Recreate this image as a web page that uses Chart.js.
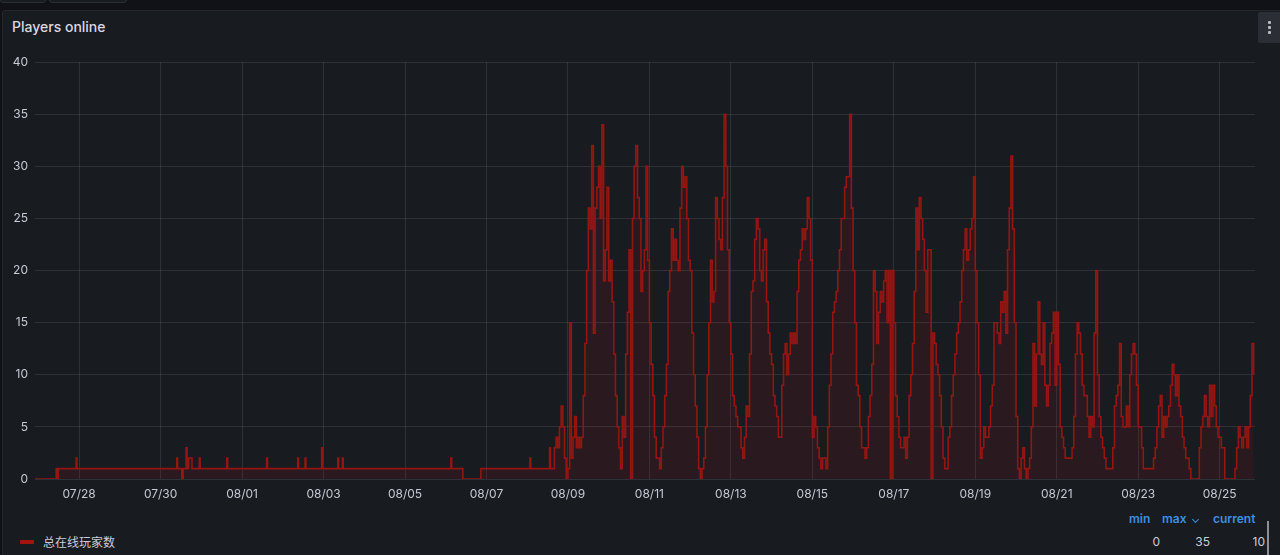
<!DOCTYPE html>
<html>
<head>
<meta charset="utf-8">
<script src="https://cdn.jsdelivr.net/npm/chart.js@4"></script>
<style>
  html, body { margin: 0; padding: 0; }
  body { width: 1280px; height: 555px; background: #111217; overflow: hidden; position: relative;
         font-family: Inter, "Noto Sans CJK SC", sans-serif; color: #ccccdc; }
  .topbtn { position: absolute; top: -6px; height: 7px; border: 1px solid #2c3036; border-radius: 3px; background: #181b1f; }
  .panel { position: absolute; left: 2px; top: 10px; width: 1290px; height: 560px; background: #181b1f;
           border: 1px solid #24272c; border-radius: 3px; }
  .title { position: absolute; left: 12px; top: 18px; font-size: 14px; font-weight: 500; color: #d8d9e3; }
  .menu { position: absolute; left: 1258px; top: 12px; width: 24px; height: 31px; background: #2b2e34; border-radius: 2px; }
  .menu i { position: absolute; left: 10px; width: 3px; height: 3px; background: #b8bac4; border-radius: 1px; }
  #wrap { position: absolute; left: 0; top: 48px; width: 1270px; height: 462px; }
  .lg { position: absolute; font-size: 12px; white-space: nowrap; }
  .hd { color: #3d8fe3; font-weight: 600; top: 511px; }
  .val { color: #ccccdc; top: 534px; }
  .chev { position: absolute; left: 1193px; top: 517px; width: 4px; height: 4px;
          border-right: 1.5px solid #3d8fe3; border-bottom: 1.5px solid #3d8fe3; transform: rotate(45deg); }
</style>
</head>
<body>
<div class="topbtn" style="left:0;width:44px"></div>
<div class="topbtn" style="left:49px;width:76px"></div>
<div class="panel"></div>
<div class="title">Players online</div>
<div class="menu"><i style="top:9px"></i><i style="top:14px"></i><i style="top:19px"></i></div>
<div id="wrap"><canvas id="chart"></canvas></div>

<div style="position:absolute;left:20px;top:540px;width:14px;height:4px;background:#a3140f;border-radius:1px"></div>
<div class="lg" id="seriesName" style="left:43px;top:533px;color:#ccccdc"></div>
<div class="lg hd" style="left:1129px">min</div>
<div class="lg hd" style="left:1162px">max</div>
<div class="chev"></div>
<div class="lg hd" style="left:1213px">current</div>
<div class="lg val" id="vMin" style="right:120px"></div>
<div class="lg val" id="vMax" style="right:70px"></div>
<div class="lg val" id="vCur" style="right:15px"></div>
<div style="position:absolute;left:1267px;top:521px;width:2px;height:34px;background:#8e9099"></div>

<script>
const seriesName = '总在线玩家数';
const tickLabels = ['07/28', '07/30', '08/01', '08/03', '08/05', '08/07', '08/09', '08/11',
                    '08/13', '08/15', '08/17', '08/19', '08/21', '08/23', '08/25'];
const yTicks = [0, 5, 10, 15, 20, 25, 30, 35, 40];

// hours since 07/28 00:00, quiet period (sparse changes)
const quietHours = [-26, -13.5, -12.8, -12.3, -1.8, -1.3, 57.5, 58, 60.5, 61.3, 63, 63.6, 64.5, 66.5,
  70.8, 71.3, 87, 87.5, 110.5, 111, 128.8, 129.3, 133.1, 133.6, 142.9, 143.4, 152.4, 152.9,
  155.1, 155.6, 219, 219.5, 226.1, 236.7, 265.6, 266.1, 277.2, 277.7];
const quietValues = [0, 1, 0, 1, 2, 1, 2, 1, 0, 1, 3, 1, 2, 1,
  2, 1, 2, 1, 2, 1, 2, 1, 2, 1, 3, 1, 2, 1,
  2, 1, 2, 1, 0, 1, 2, 1, 3, 1];

// hourly values from 08/08 16:00 on
const activeStartHour = 280;
const hourlyPlayers = [
  3, 4, 3, 5, 7, 5, 2, 0, // 08/08 16h-23h
  1, 15, 2, 4, 6, 3, 4, 3, 4, 8, 13, 20, 26, 24, 32, 14, 26, 28, 30, 25, 34, 19, 22, 28, // 08/09
  19, 21, 17, 12, 8, 5, 3, 1, 6, 4, 12, 16, 22, 0, 25, 30, 32, 27, 25, 18, 20, 22, 30, 21, // 08/10
  15, 11, 8, 4, 2, 2, 1, 3, 5, 8, 11, 18, 20, 24, 21, 23, 21, 20, 26, 30, 28, 29, 25, 21, // 08/11
  20, 14, 10, 7, 4, 1, 0, 1, 2, 5, 10, 15, 21, 17, 18, 27, 25, 23, 22, 27, 35, 30, 22, 15, // 08/12
  12, 8, 7, 6, 5, 5, 3, 2, 4, 7, 6, 12, 18, 19, 23, 25, 24, 20, 19, 22, 23, 17, 14, 12, // 08/13
  11, 8, 7, 6, 4, 4, 9, 12, 13, 10, 12, 14, 13, 14, 13, 18, 21, 22, 24, 23, 24, 27, 25, 21, // 08/14
  4, 6, 5, 3, 2, 1, 2, 2, 1, 5, 9, 12, 16, 17, 18, 20, 22, 25, 25, 28, 29, 29, 35, 26, // 08/15
  20, 15, 9, 8, 5, 3, 3, 2, 3, 6, 8, 11, 20, 18, 13, 16, 18, 17, 19, 20, 15, 20, 0, 20, // 08/16
  15, 8, 6, 4, 3, 3, 4, 2, 4, 8, 10, 13, 18, 26, 22, 27, 25, 23, 20, 16, 22, 22, 0, 14, // 08/17
  13, 11, 10, 8, 5, 2, 1, 1, 4, 5, 8, 10, 12, 14, 15, 17, 20, 22, 24, 21, 22, 24, 25, 29, // 08/18
  20, 15, 10, 2, 3, 5, 4, 4, 5, 7, 9, 15, 15, 14, 13, 17, 16, 18, 14, 22, 26, 31, 24, 15, // 08/19
  6, 1, 0, 2, 3, 1, 0, 1, 2, 5, 13, 7, 12, 17, 12, 11, 15, 9, 7, 9, 13, 14, 16, 9, // 08/20
  16, 11, 5, 4, 3, 2, 2, 2, 2, 3, 6, 12, 15, 14, 12, 9, 8, 8, 6, 4, 6, 5, 14, 20, // 08/21
  10, 6, 4, 3, 2, 1, 1, 1, 1, 3, 7, 8, 9, 13, 6, 5, 5, 7, 5, 10, 12, 13, 12, 9, // 08/22
  5, 5, 3, 1, 1, 1, 1, 1, 1, 2, 3, 5, 7, 8, 4, 6, 5, 6, 7, 9, 11, 10, 8, 10, // 08/23
  7, 6, 4, 3, 2, 2, 1, 0, 0, 0, 0, 0, 3, 5, 6, 8, 6, 5, 9, 6, 9, 7, 5, 4, // 08/24
  4, 3, 3, 0, 0, 0, 0, 0, 0, 1, 3, 5, 4, 3, 4, 5, 3, 5, 8, 13, 10 // 08/25
];

const points = quietHours.map((h, i) => ({ x: h, y: quietValues[i] }))
  .concat(hourlyPlayers.map((v, i) => ({ x: activeStartHour + i, y: v })));

const allValues = quietValues.concat(hourlyPlayers);
document.getElementById('seriesName').textContent = seriesName;
document.getElementById('vMin').textContent = Math.min(...allValues);
document.getElementById('vMax').textContent = Math.max(...allValues);
document.getElementById('vCur').textContent = hourlyPlayers[hourlyPlayers.length - 1];

const gridColor = 'rgba(204, 204, 220, 0.13)';
const tickFont = { family: 'Inter', size: 12 };

new Chart(document.getElementById('chart').getContext('2d'), {
  type: 'line',
  data: {
    datasets: [{
      label: seriesName,
      data: points,
      stepped: true,
      borderColor: '#931612',
      borderWidth: 1.6,
      backgroundColor: 'rgba(170, 24, 36, 0.12)',
      fill: 'origin',
      pointRadius: 0,
      tension: 0
    }]
  },
  options: {
    responsive: true,
    maintainAspectRatio: false,
    animation: false,
    layout: { padding: { top: 9, right: 15, left: 0, bottom: 0 } },
    plugins: { legend: { display: false }, tooltip: { enabled: false } },
    scales: {
      x: {
        type: 'linear',
        min: -26,
        max: 692.8,
        afterFit: (s) => { s.height = 31; },
        afterBuildTicks: (s) => { s.ticks = tickLabels.map((_, i) => ({ value: i * 48 })); },
        ticks: {
          color: '#c7c9d3', font: tickFont, padding: 8, maxRotation: 0, autoSkip: false,
          callback: (v) => tickLabels[Math.round(v / 48)]
        },
        grid: { color: gridColor, drawTicks: false },
        border: { display: false }
      },
      y: {
        min: 0,
        max: 40,
        afterFit: (s) => { s.width = 35; },
        afterBuildTicks: (s) => { s.ticks = yTicks.map(v => ({ value: v })); },
        ticks: { color: '#c7c9d3', font: tickFont, padding: 7 },
        grid: { color: gridColor, drawTicks: false },
        border: { display: false }
      }
    }
  }
});
</script>
</body>
</html>
